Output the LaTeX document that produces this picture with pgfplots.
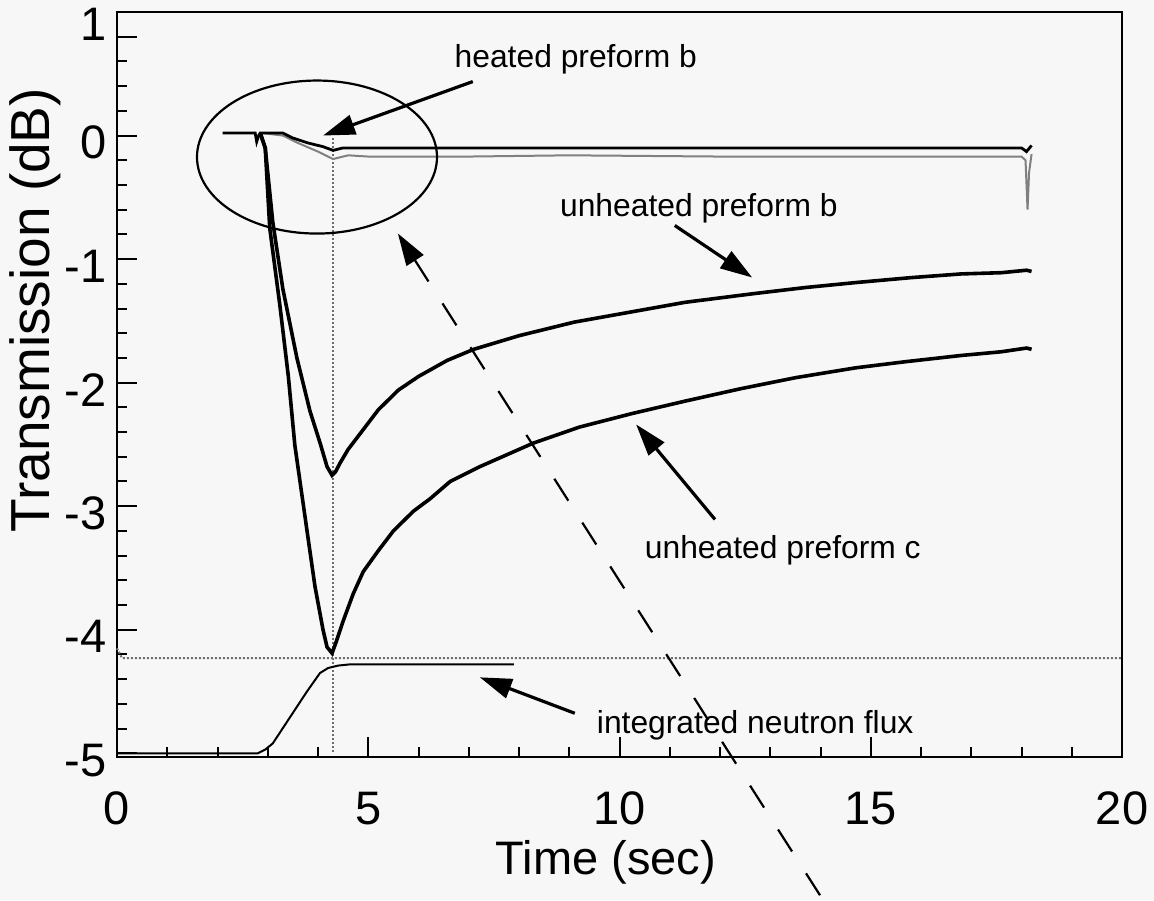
\documentclass[border=0pt]{standalone}
\usepackage{pgfplots}
\pgfplotsset{compat=1.18}
\usepackage{fontspec}
\setmainfont{Liberation Sans}
\usetikzlibrary{arrows.meta}
\definecolor{bg}{RGB}{247,247,247}
\definecolor{dotgray}{RGB}{110,110,110}
\begin{document}
\begin{tikzpicture}
\fill[bg] (-58.5pt,-71.5pt) rectangle (518.5pt,378.5pt);
\begin{axis}[
  at={(0pt,0pt)}, anchor=south west,
  scale only axis, width=502.5pt, height=372.5pt,
  xmin=0, xmax=20, ymin=-5.03, ymax=1,
  clip=false,
  axis line style={line width=1.4pt},
  tick align=inside,
  xtick pos=bottom, ytick pos=left,
  tick style={line width=1pt, black},
  major tick length=10pt, minor tick length=5pt,
  xtick={0,5,10,15,20},
  xticklabels={0,5,10,15,20},
  minor xtick={1,2,3,4,6,7,8,9,11,12,13,14,16,17,18,19},
  ytick={-5,-4,-3,-2,-1,0},
  yticklabels={-5,-4,-3,-2,-1,0},
  minor ytick={-4.8,-4.6,-4.4,-4.2,-3.8,-3.6,-3.4,-3.2,-2.8,-2.6,-2.4,-2.2,-1.8,-1.6,-1.4,-1.2,-0.8,-0.6,-0.4,-0.2,0.2,0.4,0.6},
  extra y ticks={0.8}, extra y tick labels={1},
  extra y tick style={yticklabel style={yshift=9.5pt}},
  tick label style={font=\fontsize{23.5}{24}\selectfont},
  xticklabel style={yshift=-14pt},
  yticklabel style={xshift=-1.7pt, yshift=-3.5pt},
  xlabel={Time (sec)},
  xlabel style={at={(axis description cs:0.4866,-0.141)}, anchor=center, font=\fontsize{23.5}{24}\selectfont},
  ylabel={Transmission (dB)},
  ylabel style={at={(axis description cs:-0.0816,0.600)}, anchor=center, font=\fontsize{27.5}{28}\selectfont},
]
% reference dotted lines
\addplot[dotgray, densely dotted, line width=1pt] coordinates {(0,-4.15) (0.1,-4.23) (20,-4.23)};
\addplot[dotgray, densely dotted, line width=1pt] coordinates {(4.3,-0.02) (4.3,-5.0)};
% heated preform b (two traces)
\addplot[gray, line width=1pt] coordinates {
(2.9,0.02) (3.3,0.0) (3.6,-0.06) (4.0,-0.13) (4.3,-0.19) (4.6,-0.16) (5,-0.17) (7,-0.17) (9,-0.16) (12,-0.17) (15,-0.17) (18.0,-0.17) (18.08,-0.2) (18.12,-0.6) (18.15,-0.3) (18.2,-0.15)};
\addplot[black, line width=1.4pt] coordinates {
(2.1,0.02) (2.75,0.02) (2.78,-0.05) (2.82,0.0) (2.85,0.02) (3.3,0.02) (3.5,-0.02) (3.8,-0.06) (4.1,-0.09) (4.3,-0.12) (4.5,-0.1) (6,-0.1) (10,-0.1) (15,-0.1) (18.0,-0.1) (18.1,-0.13) (18.2,-0.08)};
% unheated preform b
\addplot[black, line width=1.8pt] coordinates {
(2.85,0.02) (2.95,-0.1) (3.1,-0.7) (3.3,-1.24) (3.58,-1.8) (3.84,-2.23) (4.05,-2.5) (4.18,-2.68) (4.28,-2.75) (4.35,-2.72) (4.44,-2.65) (4.6,-2.54) (4.9,-2.38) (5.2,-2.22) (5.6,-2.06) (6.0,-1.95) (6.57,-1.82) (7.1,-1.73) (8.0,-1.62) (9.1,-1.51) (10.2,-1.43) (11.3,-1.35) (12.66,-1.28) (13.7,-1.23) (14.7,-1.19) (15.8,-1.15) (16.8,-1.12) (17.6,-1.11) (18.1,-1.09) (18.2,-1.1)};
% unheated preform c
\addplot[black, line width=1.8pt] coordinates {
(2.85,0.02) (2.95,-0.1) (3.04,-0.75) (3.24,-1.37) (3.41,-1.95) (3.54,-2.51) (3.74,-3.08) (3.94,-3.65) (4.1,-4.0) (4.18,-4.14) (4.28,-4.19) (4.36,-4.1) (4.5,-3.93) (4.7,-3.71) (4.9,-3.53) (5.2,-3.36) (5.5,-3.2) (5.9,-3.04) (6.23,-2.94) (6.63,-2.8) (7.22,-2.68) (8.28,-2.49) (9.2,-2.36) (10.25,-2.25) (11.3,-2.15) (12.4,-2.05) (13.5,-1.96) (14.7,-1.88) (15.7,-1.83) (16.8,-1.78) (17.6,-1.75) (18.1,-1.72) (18.2,-1.73)};
% integrated neutron flux
\addplot[black, line width=1pt] coordinates {
(0,-5.0) (2.8,-5.0) (2.95,-4.97) (3.1,-4.92) (3.44,-4.71) (3.78,-4.5) (4.04,-4.35) (4.2,-4.31) (4.4,-4.29) (4.64,-4.28) (7.9,-4.28)};
% annotations
\draw[line width=1.1pt] (axis cs:3.98,-0.174) ellipse [x radius=60pt, y radius=38.25pt];
\draw[line width=1.6pt, -{Triangle[length=16pt,width=10pt]}] (axis cs:7.08,0.437) -- (axis cs:4.10,0.0);
\draw[line width=1.6pt, -{Triangle[length=16pt,width=10pt]}] (axis cs:11.10,-0.728) -- (axis cs:12.64,-1.149);
\draw[line width=1.6pt, -{Triangle[length=16pt,width=10pt]}] (axis cs:11.90,-3.107) -- (axis cs:10.33,-2.338);
\draw[line width=1.6pt, -{Triangle[length=16pt,width=10pt]}] (axis cs:9.11,-4.676) -- (axis cs:7.22,-4.385);
\draw[line width=1.1pt, dash pattern=on 13pt off 13pt, -{Triangle[length=16pt,width=10pt]}] (axis cs:13.99,-6.149) -- (axis cs:5.59,-0.793);
\node[font=\fontsize{15.9}{17}\selectfont] at (axis cs:9.13,0.615) {heated preform b};
\node[font=\fontsize{15.9}{17}\selectfont] at (axis cs:11.58,-0.59) {unheated preform b};
\node[font=\fontsize{15.9}{17}\selectfont] at (axis cs:13.25,-3.36) {unheated preform c};
\node[font=\fontsize{15.9}{17}\selectfont] at (axis cs:12.70,-4.773) {integrated neutron flux};
\end{axis}
\pgfresetboundingbox
\path[use as bounding box] (-58.5pt,-71.5pt) rectangle (518.5pt,378.5pt);
\end{tikzpicture}
\end{document}
